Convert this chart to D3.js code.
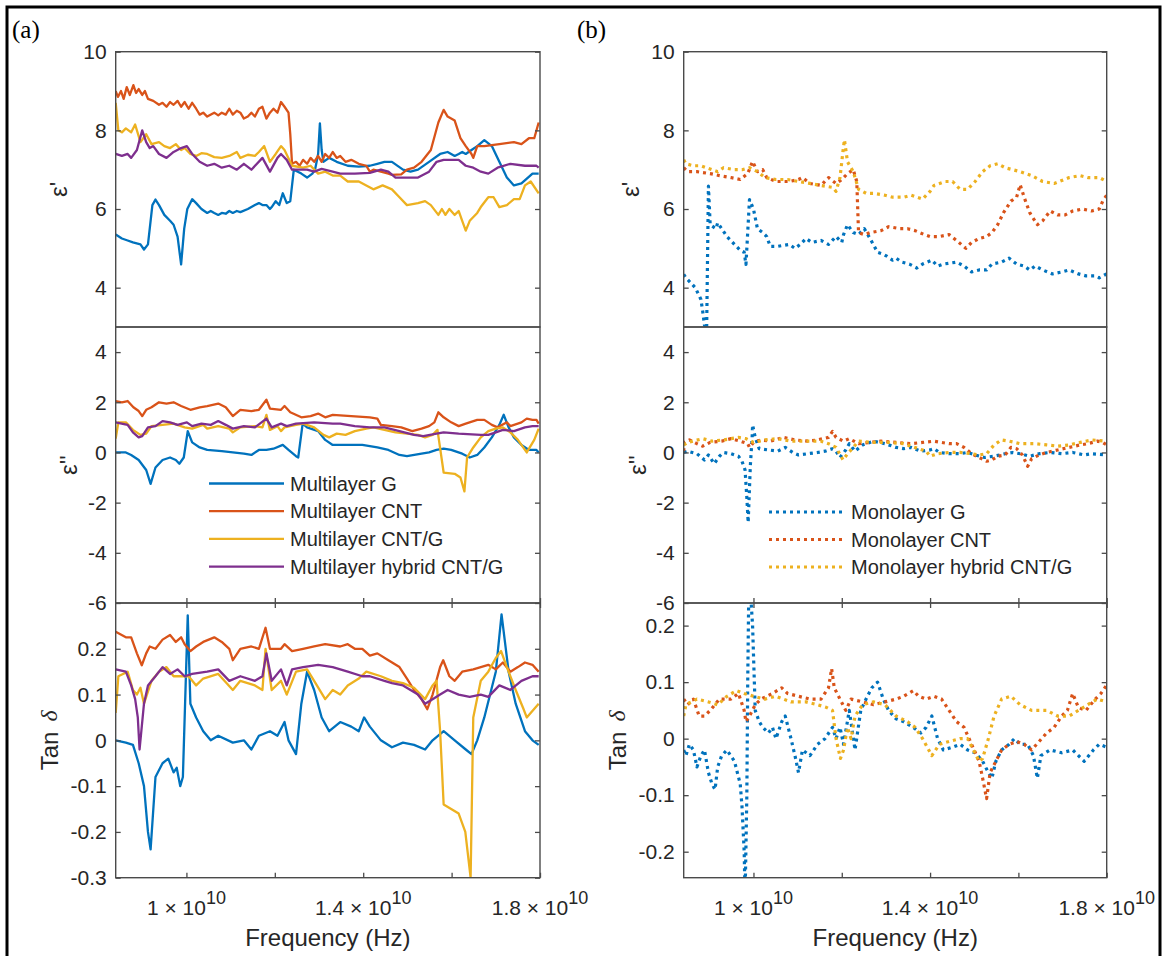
<!DOCTYPE html>
<html>
<head>
<meta charset="utf-8">
<script src="https://cdn.jsdelivr.net/npm/d3@7"></script>
<style>
  body { margin: 0; background: #fff; }
  svg { display: block; font-family: "Liberation Sans", Arial, sans-serif; }
</style>
</head>
<body>
<svg id="chart" width="1164" height="956"></svg>
<script>
// ---- data (frequency in GHz, value) ----

// (a) multilayer, eps'
const multiG_eps1 = [[8.40,5.35],[8.54,5.25],[8.67,5.2],[8.79,5.15],[8.96,5.1],[9.04,4.97],[9.13,5.1],[9.23,6.1],[9.30,6.24],[9.38,6.1],[9.50,5.85],[9.63,5.7],[9.71,5.6],[9.80,5.3],[9.88,4.59],[9.95,5.5],[10.02,6.0],[10.13,6.25],[10.22,6.15],[10.34,6.0],[10.47,5.9],[10.55,5.95],[10.63,5.9],[10.72,5.85],[10.80,5.9],[10.89,5.88],[10.97,5.95],[11.05,5.9],[11.14,5.95],[11.22,5.92],[11.39,6.0],[11.47,6.05],[11.55,6.1],[11.64,6.15],[11.72,6.1],[11.81,6.1],[11.89,6.0],[11.93,6.05],[12.02,6.2],[12.10,6.1],[12.18,6.4],[12.27,6.15],[12.35,6.2],[12.43,7.0],[12.52,6.95],[12.60,6.9],[12.73,6.8],[12.85,6.9],[12.91,7.0],[12.98,7.4],[13.02,8.18],[13.06,7.5],[13.10,7.2],[13.23,7.3],[13.40,7.2],[13.65,7.1],[13.90,7.08],[14.15,7.1],[14.32,7.15],[14.48,7.2],[14.65,7.2],[14.90,7.0],[15.07,6.95],[15.24,7.0],[15.49,7.2],[15.74,7.4],[15.91,7.45],[16.07,7.35],[16.16,7.4],[16.24,7.45],[16.32,7.4],[16.45,7.5],[16.58,7.6],[16.74,7.75],[16.91,7.6],[17.08,7.2],[17.25,6.8],[17.41,6.6],[17.58,6.65],[17.83,6.9],[17.97,6.9]];
const multiCNT_eps1 = [[8.40,9.0],[8.45,8.85],[8.52,9.0],[8.58,8.8],[8.65,9.1],[8.72,8.9],[8.80,9.15],[8.86,8.95],[8.92,9.05],[9.00,8.9],[9.06,9.0],[9.13,8.8],[9.25,8.75],[9.38,8.65],[9.46,8.7],[9.55,8.6],[9.63,8.72],[9.71,8.65],[9.80,8.75],[9.88,8.6],[9.96,8.72],[10.05,8.55],[10.13,8.7],[10.22,8.55],[10.30,8.4],[10.38,8.45],[10.47,8.35],[10.63,8.45],[10.72,8.38],[10.80,8.45],[10.89,8.4],[10.97,8.55],[11.05,8.4],[11.14,8.5],[11.22,8.45],[11.30,8.3],[11.39,8.35],[11.47,8.45],[11.55,8.35],[11.64,8.55],[11.72,8.6],[11.81,8.3],[11.89,8.45],[11.97,8.55],[12.06,8.45],[12.14,8.72],[12.22,8.6],[12.31,8.45],[12.35,7.9],[12.39,7.15],[12.48,7.2],[12.56,7.1],[12.64,7.25],[12.73,7.15],[12.81,7.3],[12.89,7.2],[12.98,7.35],[13.06,7.2],[13.14,7.4],[13.23,7.3],[13.31,7.45],[13.40,7.3],[13.48,7.35],[13.60,7.2],[13.73,7.25],[13.90,7.15],[14.07,7.1],[14.15,6.95],[14.23,7.0],[14.40,6.95],[14.57,6.9],[14.65,6.87],[14.86,6.88],[14.99,7.0],[15.15,7.05],[15.32,7.2],[15.53,7.5],[15.70,8.2],[15.82,8.52],[15.91,8.35],[15.99,8.3],[16.07,8.25],[16.20,7.8],[16.32,7.6],[16.45,7.4],[16.49,7.3],[16.58,7.6],[16.74,7.6],[17.08,7.65],[17.41,7.7],[17.58,7.65],[17.75,7.8],[17.87,7.8],[17.97,8.2]];
const multiCNTG_eps1 = [[8.40,8.7],[8.46,8.0],[8.54,7.95],[8.63,8.05],[8.75,7.95],[8.84,8.15],[8.96,7.7],[9.09,7.9],[9.21,7.65],[9.38,7.7],[9.50,7.6],[9.63,7.55],[9.76,7.65],[9.88,7.5],[9.96,7.55],[10.09,7.4],[10.22,7.35],[10.34,7.42],[10.47,7.4],[10.63,7.32],[10.80,7.3],[10.97,7.35],[11.14,7.45],[11.22,7.3],[11.39,7.38],[11.55,7.35],[11.64,7.45],[11.76,7.6],[11.89,7.2],[12.02,7.4],[12.14,7.6],[12.22,7.5],[12.39,7.1],[12.64,7.05],[12.81,7.1],[12.98,6.9],[13.14,6.95],[13.31,6.85],[13.48,6.85],[13.65,6.7],[13.90,6.7],[14.07,6.6],[14.23,6.5],[14.44,6.6],[14.65,6.5],[14.82,6.3],[14.99,6.1],[15.24,6.15],[15.40,6.2],[15.53,6.1],[15.70,5.85],[15.78,6.0],[15.86,5.85],[15.95,6.0],[16.07,5.85],[16.16,5.95],[16.24,5.7],[16.32,5.45],[16.41,5.7],[16.58,5.9],[16.66,6.05],[16.83,6.3],[16.95,6.3],[17.08,6.05],[17.25,6.1],[17.41,6.25],[17.54,6.25],[17.66,6.6],[17.79,6.7],[17.97,6.4]];
const multiHyb_eps1 = [[8.40,7.4],[8.54,7.35],[8.67,7.4],[8.75,7.3],[8.88,7.5],[9.00,8.0],[9.09,7.7],[9.17,7.55],[9.25,7.6],[9.38,7.4],[9.55,7.3],[9.71,7.45],[9.88,7.55],[10.01,7.6],[10.13,7.4],[10.30,7.2],[10.47,7.1],[10.63,7.15],[10.80,7.05],[10.97,7.1],[11.14,7.0],[11.30,7.15],[11.47,7.0],[11.72,7.3],[11.89,6.95],[12.06,7.3],[12.14,7.4],[12.27,7.25],[12.39,7.0],[12.73,7.0],[12.89,6.95],[13.06,7.02],[13.31,6.95],[13.48,6.9],[13.81,6.9],[14.15,6.92],[14.40,7.0],[14.57,6.95],[14.73,6.8],[14.99,6.8],[15.24,6.8],[15.49,6.95],[15.66,7.2],[15.82,7.25],[16.16,7.25],[16.32,7.1],[16.49,7.05],[16.66,6.95],[16.83,6.9],[17.04,7.05],[17.33,7.15],[17.66,7.1],[17.92,7.1],[17.97,7.05]];

// (a) multilayer, eps''
const multiG_eps2 = [[8.40,0.0],[8.63,0.0],[8.75,-0.1],[8.92,-0.3],[9.09,-0.7],[9.19,-1.25],[9.30,-0.6],[9.46,-0.3],[9.63,-0.2],[9.76,-0.3],[9.84,-0.45],[9.94,-0.2],[10.03,0.85],[10.13,0.4],[10.30,0.2],[10.47,0.1],[10.80,0.05],[11.05,0.0],[11.30,-0.05],[11.47,-0.1],[11.64,0.1],[11.81,0.1],[11.97,0.15],[12.18,0.3],[12.31,0.1],[12.48,-0.15],[12.53,-0.2],[12.63,1.15],[12.73,1.0],[12.98,0.85],[13.14,0.5],[13.31,0.3],[13.65,0.3],[13.98,0.3],[14.32,0.2],[14.57,0.1],[14.82,-0.1],[14.99,-0.15],[15.32,-0.05],[15.49,0.0],[15.66,0.1],[15.82,0.15],[15.99,0.1],[16.24,-0.05],[16.41,-0.2],[16.58,-0.1],[16.74,0.2],[16.91,0.6],[17.08,1.1],[17.18,1.5],[17.29,1.0],[17.41,0.6],[17.58,0.3],[17.75,0.1],[17.92,0.1],[17.97,0.0]];
const multiCNT_eps2 = [[8.40,2.05],[8.54,2.0],[8.67,2.05],[8.80,1.8],[8.92,1.65],[9.00,1.45],[9.09,1.7],[9.21,1.8],[9.38,2.0],[9.55,1.95],[9.71,2.0],[9.88,1.85],[10.09,1.7],[10.30,1.8],[10.47,1.85],[10.72,1.95],[10.89,1.8],[11.05,1.45],[11.22,1.7],[11.47,1.65],[11.64,1.7],[11.81,2.1],[11.89,1.75],[12.14,1.7],[12.22,1.85],[12.35,1.6],[12.60,1.4],[12.81,1.45],[12.98,1.55],[13.14,1.4],[13.31,1.5],[13.73,1.45],[14.15,1.4],[14.32,1.35],[14.40,1.1],[14.65,1.05],[14.86,1.0],[15.11,0.85],[15.32,0.95],[15.49,1.05],[15.61,1.2],[15.70,1.6],[15.82,1.4],[15.99,1.2],[16.16,1.05],[16.32,1.15],[16.58,1.3],[16.74,1.3],[16.91,1.1],[17.04,1.0],[17.25,1.2],[17.33,1.05],[17.58,1.2],[17.70,1.35],[17.83,1.3],[17.92,1.3],[17.97,1.15]];
const multiCNTG_eps2 = [[8.40,0.55],[8.46,1.2],[8.63,1.2],[8.79,0.9],[8.96,0.7],[9.09,0.75],[9.21,1.05],[9.46,1.1],[9.71,1.15],[9.96,1.0],[10.13,0.95],[10.38,1.1],[10.47,0.95],[10.72,1.05],[10.97,0.95],[11.05,0.8],[11.22,1.0],[11.55,1.05],[11.72,1.0],[11.81,1.5],[11.89,0.9],[12.06,1.05],[12.14,0.85],[12.22,1.0],[12.48,1.1],[12.64,1.15],[12.89,1.0],[13.10,0.7],[13.23,0.6],[13.40,0.75],[13.60,0.7],[13.81,0.85],[14.07,0.95],[14.23,1.0],[14.48,0.9],[14.73,0.8],[14.99,0.75],[15.24,0.7],[15.40,0.6],[15.57,0.7],[15.68,0.9],[15.82,-0.8],[16.07,-0.85],[16.20,-1.0],[16.29,-1.55],[16.35,-0.2],[16.49,0.2],[16.66,0.6],[16.83,0.85],[17.00,0.95],[17.16,1.0],[17.33,0.8],[17.50,0.5],[17.70,0.0],[17.87,0.5],[17.97,0.95]];
const multiHyb_eps2 = [[8.40,1.2],[8.67,1.1],[8.79,0.8],[8.92,0.6],[9.00,0.65],[9.13,1.0],[9.30,1.05],[9.46,1.25],[9.63,1.2],[9.80,1.1],[10.01,1.2],[10.13,1.05],[10.34,1.15],[10.55,1.1],[10.72,1.25],[10.89,1.1],[11.05,0.95],[11.30,1.05],[11.55,1.0],[11.81,1.35],[11.93,1.0],[12.14,1.15],[12.27,1.05],[12.48,1.15],[12.89,1.2],[13.31,1.15],[13.48,1.15],[13.81,1.05],[14.15,1.0],[14.48,1.0],[14.82,0.85],[15.15,0.7],[15.36,0.65],[15.66,0.75],[15.82,0.8],[16.16,0.75],[16.66,0.7],[16.83,0.7],[17.00,0.8],[17.16,0.9],[17.41,0.85],[17.66,1.0],[17.83,1.05],[17.97,1.05]];

// (a) multilayer, tan delta
const multiG_tan = [[8.40,0.0],[8.63,-0.005],[8.79,-0.01],[8.92,-0.05],[9.04,-0.1],[9.13,-0.2],[9.19,-0.238],[9.30,-0.08],[9.46,-0.05],[9.59,-0.04],[9.71,-0.07],[9.78,-0.06],[9.86,-0.1],[9.92,-0.08],[10.03,0.273],[10.09,0.08],[10.22,0.05],[10.38,0.02],[10.55,0.0],[10.72,0.01],[11.05,-0.005],[11.30,0.0],[11.47,-0.02],[11.64,0.01],[11.89,0.02],[12.06,0.01],[12.22,0.04],[12.31,0.0],[12.48,-0.03],[12.60,0.08],[12.73,0.15],[12.89,0.11],[13.06,0.05],[13.23,0.02],[13.48,0.04],[13.73,0.03],[13.90,0.02],[14.02,0.05],[14.15,0.03],[14.40,0.0],[14.65,-0.015],[14.90,-0.005],[15.15,-0.01],[15.40,-0.02],[15.57,0.0],[15.82,0.02],[16.07,0.0],[16.32,-0.02],[16.45,-0.03],[16.58,0.0],[16.74,0.05],[17.00,0.15],[17.13,0.275],[17.29,0.15],[17.45,0.08],[17.66,0.02],[17.83,0.0],[17.97,-0.01]];
const multiCNT_tan = [[8.40,0.237],[8.63,0.225],[8.75,0.225],[8.88,0.19],[8.99,0.164],[9.09,0.19],[9.17,0.205],[9.30,0.2],[9.46,0.22],[9.63,0.23],[9.76,0.215],[9.88,0.225],[9.96,0.21],[10.09,0.195],[10.22,0.205],[10.38,0.215],[10.63,0.225],[10.80,0.215],[10.97,0.2],[11.05,0.175],[11.22,0.2],[11.47,0.205],[11.64,0.2],[11.79,0.246],[11.89,0.2],[12.14,0.2],[12.22,0.21],[12.39,0.195],[12.64,0.2],[12.89,0.205],[13.14,0.21],[13.48,0.205],[13.65,0.21],[13.81,0.2],[13.98,0.2],[14.15,0.185],[14.32,0.19],[14.57,0.175],[14.82,0.16],[14.99,0.135],[15.15,0.11],[15.32,0.09],[15.45,0.068],[15.57,0.1],[15.74,0.16],[15.81,0.175],[15.95,0.14],[16.07,0.13],[16.24,0.15],[16.49,0.155],[16.66,0.16],[16.83,0.165],[17.00,0.155],[17.16,0.17],[17.33,0.15],[17.50,0.16],[17.66,0.17],[17.83,0.165],[17.97,0.15]];
const multiCNTG_tan = [[8.40,0.06],[8.46,0.14],[8.67,0.15],[8.79,0.11],[8.88,0.1],[8.96,0.115],[9.04,0.08],[9.21,0.13],[9.38,0.15],[9.55,0.16],[9.71,0.14],[10.05,0.14],[10.22,0.12],[10.38,0.135],[10.72,0.145],[11.05,0.11],[11.22,0.13],[11.55,0.12],[11.72,0.11],[11.79,0.2],[11.93,0.11],[12.14,0.13],[12.27,0.1],[12.48,0.15],[12.73,0.155],[12.89,0.13],[13.14,0.09],[13.31,0.11],[13.48,0.1],[13.65,0.12],[13.90,0.135],[14.07,0.15],[14.40,0.14],[14.65,0.13],[14.90,0.125],[15.15,0.115],[15.40,0.09],[15.57,0.12],[15.66,0.13],[15.74,0.02],[15.82,-0.14],[15.99,-0.15],[16.16,-0.16],[16.31,-0.2],[16.43,-0.3],[16.49,0.05],[16.66,0.13],[16.83,0.15],[17.00,0.18],[17.12,0.195],[17.25,0.16],[17.45,0.11],[17.62,0.07],[17.70,0.05],[17.97,0.08]];
const multiHyb_tan = [[8.40,0.155],[8.63,0.15],[8.75,0.12],[8.84,0.09],[8.90,0.05],[8.94,-0.02],[9.04,0.08],[9.13,0.12],[9.30,0.14],[9.46,0.16],[9.63,0.145],[9.80,0.155],[9.96,0.14],[10.13,0.145],[10.47,0.15],[10.72,0.155],[10.97,0.13],[11.22,0.14],[11.55,0.13],[11.72,0.14],[11.81,0.19],[11.93,0.13],[12.14,0.155],[12.27,0.12],[12.39,0.155],[12.64,0.16],[12.98,0.165],[13.31,0.16],[13.65,0.15],[13.98,0.14],[14.15,0.14],[14.48,0.13],[14.65,0.125],[14.90,0.12],[15.07,0.11],[15.24,0.1],[15.40,0.08],[15.57,0.09],[15.74,0.1],[15.91,0.11],[16.16,0.1],[16.41,0.095],[16.66,0.1],[16.83,0.095],[17.08,0.12],[17.33,0.11],[17.58,0.13],[17.83,0.14],[17.97,0.14]];

// (b) monolayer, eps'
const monoG_eps1 = [[8.42,4.34],[8.47,4.25],[8.60,4.1],[8.68,4.0],[8.77,3.8],[8.81,3.7],[8.85,3.4],[8.89,3.05],[8.94,2.95],[8.98,6.58],[9.02,5.6],[9.15,5.5],[9.19,5.65],[9.28,5.5],[9.40,5.3],[9.57,5.1],[9.70,4.95],[9.79,4.9],[9.83,4.59],[9.91,6.24],[10.00,6.0],[10.09,5.5],[10.21,5.4],[10.30,5.3],[10.38,5.05],[10.55,5.05],[10.81,5.1],[10.94,5.0],[11.06,5.1],[11.19,5.25],[11.32,5.15],[11.53,5.2],[11.70,5.1],[11.87,5.3],[12.00,5.15],[12.04,5.35],[12.13,5.6],[12.26,5.4],[12.38,5.35],[12.51,5.5],[12.64,5.25],[12.81,4.9],[12.94,4.85],[13.02,4.8],[13.15,4.7],[13.23,4.75],[13.36,4.65],[13.53,4.6],[13.70,4.5],[13.83,4.6],[14.04,4.7],[14.17,4.55],[14.30,4.6],[14.60,4.65],[14.77,4.55],[14.94,4.4],[15.11,4.45],[15.28,4.45],[15.40,4.6],[15.62,4.65],[15.79,4.75],[15.96,4.6],[16.13,4.55],[16.26,4.45],[16.38,4.55],[16.55,4.45],[16.77,4.35],[16.98,4.4],[17.15,4.45],[17.36,4.35],[17.53,4.3],[17.74,4.3],[17.83,4.25],[18.00,4.35]];
const monoCNT_eps1 = [[8.42,7.05],[8.51,6.95],[8.72,6.95],[9.02,6.9],[9.23,6.85],[9.49,6.8],[9.70,6.75],[9.87,6.9],[9.98,7.21],[10.09,6.95],[10.21,7.0],[10.30,6.8],[10.51,6.7],[10.81,6.7],[11.02,6.75],[11.11,6.8],[11.28,6.65],[11.53,6.6],[11.70,6.8],[11.87,6.65],[12.00,6.75],[12.13,6.9],[12.26,7.0],[12.34,6.7],[12.38,5.4],[12.51,5.35],[12.64,5.4],[12.89,5.45],[13.06,5.55],[13.32,5.5],[13.49,5.5],[13.66,5.45],[13.87,5.35],[14.00,5.3],[14.21,5.3],[14.43,5.35],[14.60,5.2],[14.81,5.0],[14.94,5.15],[15.11,5.25],[15.28,5.3],[15.40,5.4],[15.53,5.6],[15.66,5.9],[15.83,6.2],[15.96,6.3],[16.04,6.62],[16.13,6.3],[16.26,5.9],[16.43,5.6],[16.55,5.7],[16.72,5.95],[16.89,5.85],[17.06,5.85],[17.23,5.95],[17.45,6.0],[17.66,5.95],[17.83,6.0],[17.91,6.2],[18.00,6.35]];
const monoHyb_eps1 = [[8.42,7.25],[8.47,7.15],[8.64,7.1],[8.81,7.1],[9.06,7.0],[9.19,6.95],[9.32,7.05],[9.57,7.0],[9.74,7.0],[9.91,7.05],[10.09,6.95],[10.26,6.8],[10.51,6.75],[10.77,6.75],[11.02,6.7],[11.28,6.65],[11.53,6.6],[11.79,6.55],[11.87,6.45],[11.96,6.8],[12.03,7.5],[12.06,7.76],[12.13,7.2],[12.26,6.95],[12.38,6.5],[12.55,6.4],[12.72,6.4],[12.98,6.35],[13.15,6.3],[13.40,6.3],[13.57,6.35],[13.83,6.25],[14.00,6.45],[14.09,6.6],[14.34,6.7],[14.51,6.7],[14.68,6.5],[14.85,6.5],[15.02,6.7],[15.19,6.95],[15.36,7.1],[15.53,7.15],[15.70,7.05],[15.87,7.0],[16.04,6.95],[16.30,6.85],[16.55,6.7],[16.81,6.65],[17.15,6.8],[17.40,6.85],[17.57,6.8],[17.83,6.8],[18.00,6.7]];

// (b) monolayer, eps''
const monoG_eps2 = [[8.42,0.0],[8.51,0.05],[8.72,-0.05],[8.89,-0.3],[8.98,-0.1],[9.11,-0.45],[9.23,-0.15],[9.32,0.0],[9.49,-0.05],[9.66,-0.15],[9.74,-0.35],[9.81,-0.7],[9.85,-1.8],[9.88,-2.79],[9.93,-0.5],[9.97,0.6],[9.98,1.1],[10.04,0.6],[10.13,0.15],[10.34,0.1],[10.55,0.05],[10.72,0.2],[10.89,0.0],[11.02,-0.1],[11.23,-0.05],[11.45,0.0],[11.62,0.05],[11.79,0.15],[11.87,0.05],[11.96,-0.2],[12.09,0.1],[12.17,0.35],[12.30,0.05],[12.47,0.3],[12.72,0.45],[12.98,0.35],[13.23,0.2],[13.40,0.15],[13.57,0.2],[13.79,0.05],[14.00,0.1],[14.09,0.15],[14.21,0.0],[14.43,-0.05],[14.68,-0.05],[14.85,0.0],[15.02,-0.1],[15.23,-0.2],[15.45,-0.15],[15.70,-0.05],[15.87,0.0],[16.04,-0.05],[16.26,-0.15],[16.47,-0.05],[16.72,0.0],[16.98,-0.05],[17.23,0.0],[17.49,-0.1],[17.66,-0.05],[18.00,-0.1]];
const monoCNT_eps2 = [[8.42,0.05],[8.43,0.4],[8.55,0.5],[8.72,0.35],[8.85,0.25],[9.02,0.4],[9.28,0.45],[9.49,0.55],[9.70,0.45],[9.87,0.35],[9.91,0.2],[10.00,0.4],[10.17,0.5],[10.38,0.45],[10.68,0.6],[10.94,0.5],[11.23,0.45],[11.45,0.5],[11.70,0.6],[11.79,0.84],[11.87,0.6],[12.04,0.45],[12.17,0.55],[12.38,0.35],[12.64,0.4],[12.89,0.45],[13.23,0.4],[13.57,0.35],[13.83,0.4],[14.09,0.45],[14.43,0.35],[14.60,0.35],[14.77,0.2],[14.94,-0.05],[15.11,-0.2],[15.28,-0.35],[15.40,-0.3],[15.53,-0.15],[15.70,-0.1],[15.83,0.2],[15.96,0.15],[16.09,-0.1],[16.21,-0.55],[16.30,-0.25],[16.47,-0.1],[16.64,0.0],[16.89,0.1],[17.15,0.2],[17.40,0.3],[17.57,0.35],[17.79,0.45],[17.91,0.4],[18.00,0.3]];
const monoHyb_eps2 = [[8.42,0.3],[8.51,0.4],[8.85,0.55],[9.06,0.45],[9.32,0.5],[9.66,0.6],[9.83,0.55],[10.00,0.4],[10.26,0.5],[10.55,0.55],[10.85,0.45],[11.19,0.45],[11.53,0.45],[11.70,0.35],[11.87,0.2],[12.03,-0.3],[12.13,-0.05],[12.21,0.1],[12.38,0.45],[12.72,0.4],[13.06,0.4],[13.40,0.35],[13.74,0.15],[13.91,0.05],[14.00,-0.15],[14.17,-0.05],[14.43,0.0],[14.68,0.0],[14.94,-0.05],[15.11,-0.1],[15.28,-0.05],[15.45,0.3],[15.62,0.5],[15.79,0.45],[16.04,0.35],[16.38,0.35],[16.64,0.3],[16.89,0.25],[17.15,0.3],[17.40,0.4],[17.66,0.5],[18.00,0.45]];

// (b) monolayer, tan delta
const monoG_tan = [[8.42,-0.02],[8.47,-0.03],[8.55,-0.01],[8.64,-0.02],[8.72,-0.05],[8.81,-0.03],[8.89,-0.02],[8.98,-0.06],[9.06,-0.08],[9.13,-0.09],[9.19,-0.05],[9.28,-0.03],[9.40,-0.02],[9.57,-0.04],[9.70,-0.08],[9.74,-0.12],[9.79,-0.2],[9.81,-0.28],[9.85,-0.1],[9.87,0.1],[9.90,0.3],[9.98,0.2],[10.04,0.05],[10.13,0.03],[10.21,0.02],[10.34,0.01],[10.43,0.02],[10.51,0.0],[10.64,0.03],[10.72,0.04],[10.85,0.0],[10.94,-0.03],[11.02,-0.06],[11.11,-0.02],[11.28,-0.03],[11.45,-0.01],[11.62,0.0],[11.79,0.02],[11.87,0.0],[11.96,0.02],[12.04,-0.01],[12.17,0.05],[12.30,-0.02],[12.43,0.05],[12.55,0.07],[12.68,0.09],[12.81,0.1],[12.94,0.07],[13.06,0.05],[13.23,0.035],[13.40,0.03],[13.62,0.02],[13.79,0.01],[13.91,0.02],[14.04,0.04],[14.17,0.0],[14.30,-0.02],[14.51,-0.015],[14.68,-0.01],[14.85,-0.02],[15.02,-0.025],[15.19,-0.04],[15.32,-0.06],[15.40,-0.07],[15.49,-0.04],[15.62,-0.02],[15.79,-0.01],[15.91,0.0],[16.04,-0.01],[16.21,-0.01],[16.34,-0.03],[16.43,-0.07],[16.51,-0.03],[16.72,-0.02],[16.98,-0.025],[17.23,-0.02],[17.49,-0.04],[17.70,-0.02],[17.83,-0.01],[18.00,-0.015]];
const monoCNT_tan = [[8.42,0.07],[8.51,0.06],[8.64,0.07],[8.77,0.04],[8.89,0.04],[9.02,0.05],[9.23,0.07],[9.49,0.07],[9.66,0.08],[9.79,0.05],[9.83,0.03],[9.91,0.04],[10.04,0.06],[10.17,0.07],[10.43,0.08],[10.64,0.09],[10.77,0.08],[11.02,0.075],[11.28,0.07],[11.53,0.07],[11.70,0.09],[11.77,0.124],[11.83,0.09],[11.96,0.07],[12.09,0.05],[12.21,0.07],[12.47,0.065],[12.72,0.06],[12.98,0.065],[13.23,0.07],[13.40,0.075],[13.62,0.085],[13.74,0.075],[13.91,0.07],[14.09,0.075],[14.26,0.07],[14.43,0.05],[14.60,0.03],[14.77,0.02],[14.94,-0.01],[15.11,-0.04],[15.19,-0.07],[15.28,-0.106],[15.36,-0.06],[15.49,-0.04],[15.62,-0.02],[15.79,-0.01],[15.96,-0.005],[16.13,-0.01],[16.30,-0.02],[16.47,-0.005],[16.64,0.01],[16.81,0.02],[16.98,0.04],[17.11,0.05],[17.23,0.08],[17.36,0.055],[17.53,0.05],[17.74,0.07],[17.87,0.08],[18.00,0.095]];
const monoHyb_tan = [[8.42,0.04],[8.47,0.06],[8.72,0.07],[8.98,0.065],[9.19,0.06],[9.40,0.075],[9.62,0.085],[9.79,0.08],[10.00,0.075],[10.26,0.07],[10.51,0.075],[10.85,0.065],[11.19,0.065],[11.45,0.06],[11.66,0.055],[11.79,0.05],[11.87,0.0],[11.97,-0.035],[12.04,-0.02],[12.13,0.02],[12.21,0.0],[12.30,0.04],[12.47,0.06],[12.72,0.065],[12.98,0.06],[13.23,0.04],[13.49,0.03],[13.66,0.02],[13.83,0.0],[14.04,-0.03],[14.21,-0.01],[14.43,-0.005],[14.68,0.0],[14.85,0.0],[14.98,-0.02],[15.11,-0.04],[15.19,-0.035],[15.32,0.0],[15.45,0.04],[15.62,0.07],[15.83,0.075],[16.04,0.06],[16.30,0.05],[16.64,0.05],[16.89,0.04],[17.15,0.04],[17.36,0.05],[17.57,0.06],[17.79,0.07],[18.00,0.065]];

// legend names
const multiNames = ["Multilayer G", "Multilayer CNT", "Multilayer CNT/G", "Multilayer hybrid CNT/G"];
const monoNames = ["Monolayer G", "Monolayer CNT", "Monolayer hybrid CNT/G"];

// axis ticks
const xTicks = [10, 12, 14, 16, 18];            // GHz
const xTickLabels = [[10, "1"], [14, "1.4"], [18, "1.8"]];
const eps1Ticks = [4, 6, 8, 10];
const eps2Ticks = [-6, -4, -2, 0, 2, 4];
const tanTicksA = [-0.3, -0.2, -0.1, 0, 0.1, 0.2];
const tanTicksB = [-0.2, -0.1, 0, 0.1, 0.2];

// ---- layout ----
const blue = "#0072BD", orange = "#D95319", yellow = "#EDB120", purple = "#7E2F8E";
const textColor = "#262626", axisColor = "#4a4a4a";
const rowsY = [[51.7, 327], [327, 603], [603, 877.7]];

const svg = d3.select("#chart");

// outer frame
svg.append("rect")
  .attr("x", 7).attr("y", 7)
  .attr("width", 1153).attr("height", 960)
  .attr("fill", "none").attr("stroke", "#000").attr("stroke-width", 3);

const columns = [
  {
    tag: "(a)", tagX: 12, left: 115.7, right: 540, xDomain: [8.4, 18], dotted: false,
    rows: [
      {domain: [3, 10], ticks: eps1Ticks, label: "eps1", labelX: 58,
       series: [[multiG_eps1, blue], [multiCNT_eps1, orange], [multiCNTG_eps1, yellow], [multiHyb_eps1, purple]]},
      {domain: [-6, 5], ticks: eps2Ticks, label: "eps2", labelX: 68,
       series: [[multiG_eps2, blue], [multiCNT_eps2, orange], [multiCNTG_eps2, yellow], [multiHyb_eps2, purple]]},
      {domain: [-0.3, 0.3], ticks: tanTicksA, label: "tan", labelX: 49,
       series: [[multiG_tan, blue], [multiCNT_tan, orange], [multiCNTG_tan, yellow], [multiHyb_tan, purple]]}
    ],
    legend: {names: multiNames, colors: [blue, orange, yellow, purple], x0: 209, x1: 284, tx: 290, y0: 483.5, dy: 27.7}
  },
  {
    tag: "(b)", tagX: 577, left: 683.7, right: 1106.7, xDomain: [8.42, 18], dotted: true,
    rows: [
      {domain: [3, 10], ticks: eps1Ticks, label: "eps1", labelX: 630,
       series: [[monoG_eps1, blue], [monoCNT_eps1, orange], [monoHyb_eps1, yellow]]},
      {domain: [-6, 5], ticks: eps2Ticks, label: "eps2", labelX: 637,
       series: [[monoG_eps2, blue], [monoCNT_eps2, orange], [monoHyb_eps2, yellow]]},
      {domain: [-0.246, 0.24], ticks: tanTicksB, label: "tan", labelX: 617,
       series: [[monoG_tan, blue], [monoCNT_tan, orange], [monoHyb_tan, yellow]]}
    ],
    legend: {names: monoNames, colors: [blue, orange, yellow], x0: 769, x1: 843, tx: 851, y0: 512, dy: 27.5}
  }
];

columns.forEach((col, ci) => {
  const x = d3.scaleLinear().domain(col.xDomain).range([col.left, col.right]);

  // panel tag
  svg.append("text")
    .attr("x", col.tagX).attr("y", 38)
    .attr("font-family", "'Liberation Serif', 'Times New Roman', serif")
    .attr("font-size", 25)
    .text(col.tag);

  col.rows.forEach((row, ri) => {
    const [top, bottom] = rowsY[ri];
    const y = d3.scaleLinear().domain(row.domain).range([bottom, top]);
    const g = svg.append("g");

    const clipId = `clip-${ci}-${ri}`;
    svg.append("clipPath").attr("id", clipId)
      .append("rect")
      .attr("x", col.left).attr("y", top)
      .attr("width", col.right - col.left).attr("height", bottom - top);

    // lines
    const line = d3.line().x(d => x(d[0])).y(d => y(d[1]));
    const lines = g.append("g").attr("clip-path", `url(#${clipId})`);
    row.series.forEach(([data, color]) => {
      const p = lines.append("path")
        .datum(data)
        .attr("d", line)
        .attr("fill", "none")
        .attr("stroke", color)
        .attr("stroke-linejoin", "round");
      if (col.dotted) {
        p.attr("stroke-width", 3.2).attr("stroke-dasharray", "3,4");
      } else {
        p.attr("stroke-width", 2.3);
      }
    });

    // box
    g.append("rect")
      .attr("x", col.left).attr("y", top)
      .attr("width", col.right - col.left).attr("height", bottom - top)
      .attr("fill", "none").attr("stroke", axisColor).attr("stroke-width", 1.4);

    // y axis left (inward ticks)
    const ya = g.append("g")
      .attr("transform", `translate(${col.left},0)`)
      .call(d3.axisLeft(y).tickValues(row.ticks).tickSize(-5).tickPadding(9).tickFormat(d => String(d)));
    ya.select(".domain").remove();
    ya.selectAll("line").attr("stroke", axisColor).attr("stroke-width", 1.3);
    ya.selectAll("text")
      .attr("font-size", 21)
      .attr("fill", textColor)
      .attr("font-family", "'Liberation Sans', Arial, sans-serif");

    // y axis right (mirror ticks)
    const yb = g.append("g")
      .attr("transform", `translate(${col.right},0)`)
      .call(d3.axisRight(y).tickValues(row.ticks).tickSize(-5).tickFormat(""));
    yb.select(".domain").remove();
    yb.selectAll("line").attr("stroke", axisColor).attr("stroke-width", 1.3);

    // x ticks
    if (ri >= 1) {
      const xb = g.append("g")
        .attr("transform", `translate(0,${bottom})`)
        .call(d3.axisBottom(x).tickValues(xTicks).tickSize(-5).tickFormat(""));
      xb.select(".domain").remove();
      xb.selectAll("line").attr("stroke", axisColor).attr("stroke-width", 1.3);
    }
    if (ri === 2) {
      const xt = g.append("g")
        .attr("transform", `translate(0,${top})`)
        .call(d3.axisTop(x).tickValues(xTicks).tickSize(-5).tickFormat(""));
      xt.select(".domain").remove();
      xt.selectAll("line").attr("stroke", axisColor).attr("stroke-width", 1.3);
    }

    // y label
    const cy = (top + bottom) / 2;
    const lab = svg.append("text")
      .attr("transform", `translate(${row.labelX},${cy}) rotate(-90)`)
      .attr("text-anchor", "middle")
      .attr("dominant-baseline", "central")
      .attr("font-size", 24)
      .attr("fill", textColor);
    if (row.label === "eps1") {
      lab.text("\u03B5'");
    } else if (row.label === "eps2") {
      lab.text("\u03B5''");
    } else {
      lab.append("tspan").text("Tan");
      lab.append("tspan")
        .attr("dx", 10)
        .attr("font-family", "'Liberation Serif', 'Times New Roman', serif")
        .attr("font-style", "italic")
        .text("\u03B4");
    }
  });

  // x tick labels (a x 10^10)
  xTickLabels.forEach(([v, s]) => {
    const t = svg.append("text")
      .attr("x", x(v)).attr("y", 915)
      .attr("text-anchor", "middle")
      .attr("font-size", 21)
      .attr("fill", textColor);
    t.append("tspan").text(s + " \u00D7 10");
    t.append("tspan").attr("dy", -11).attr("font-size", 18).text("10");
  });

  // x title
  svg.append("text")
    .attr("x", (col.left + col.right) / 2).attr("y", 946)
    .attr("text-anchor", "middle")
    .attr("font-size", 24)
    .attr("fill", textColor)
    .text("Frequency (Hz)");

  // legend
  const lg = col.legend;
  lg.names.forEach((name, i) => {
    const yy = lg.y0 + i * lg.dy;
    const l = svg.append("line")
      .attr("x1", lg.x0).attr("x2", lg.x1)
      .attr("y1", yy).attr("y2", yy)
      .attr("stroke", lg.colors[i]);
    if (col.dotted) l.attr("stroke-width", 3.2).attr("stroke-dasharray", "3,4");
    else l.attr("stroke-width", 2.3);
    svg.append("text")
      .attr("x", lg.tx).attr("y", yy)
      .attr("dominant-baseline", "central")
      .attr("font-size", 20)
      .attr("fill", textColor)
      .text(name);
  });
});
</script>
</body>
</html>
